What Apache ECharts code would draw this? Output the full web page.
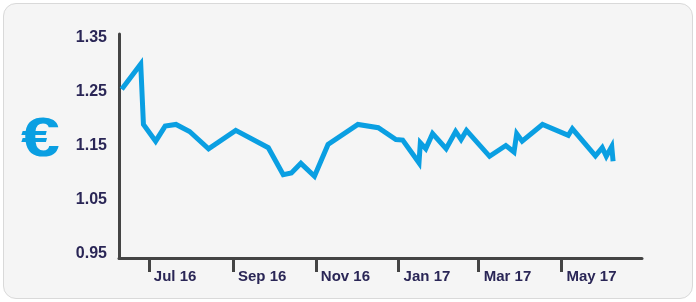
<!DOCTYPE html>
<html>
<head>
<meta charset="utf-8">
<script src="https://cdn.jsdelivr.net/npm/echarts@6/dist/echarts.min.js"></script>
<style>
html,body{margin:0;padding:0;background:#ffffff;}
#wrap{position:relative;width:696px;height:302px;}
#bg{position:absolute;left:3px;top:3px;width:688px;height:294px;background:#f5f5f5;border:1px solid #d9d9d9;border-radius:13px;}
#chart{position:absolute;left:0;top:0;width:696px;height:302px;}
</style>
</head>
<body>
<div id="wrap"><div id="bg"></div><div id="chart"></div></div>
<script>
// Dates of the observations (GBP -> EUR)
const dates = [
  '2016-06-11','2016-06-25','2016-06-27','2016-07-06','2016-07-13','2016-07-21','2016-07-31','2016-08-14',
  '2016-09-03','2016-09-27','2016-10-08','2016-10-14','2016-10-21','2016-10-31','2016-11-10','2016-12-02',
  '2016-12-17','2016-12-30','2017-01-04','2017-01-16','2017-01-17','2017-01-21','2017-01-26','2017-02-05',
  '2017-02-12','2017-02-16','2017-02-20','2017-03-09','2017-03-21','2017-03-27','2017-03-29','2017-04-02',
  '2017-04-17','2017-05-06','2017-05-09','2017-05-26','2017-05-31','2017-06-03','2017-06-07','2017-06-08'
];
const rates = [
  1.254,1.301,1.189,1.158,1.186,1.189,1.176,1.144,
  1.178,1.146,1.096,1.099,1.117,1.093,1.152,1.189,
  1.183,1.161,1.160,1.118,1.155,1.144,1.172,1.144,
  1.176,1.161,1.178,1.130,1.150,1.138,1.172,1.158,
  1.189,1.169,1.181,1.131,1.146,1.130,1.148,1.121
];
const yTicks = [0.95, 1.05, 1.15, 1.25, 1.35];
const xTickDates = ['2016-07-01','2016-09-01','2016-11-01','2017-01-01','2017-03-01','2017-05-01'];
const monthNames = ['Jan','Feb','Mar','Apr','May','Jun','Jul','Aug','Sep','Oct','Nov','Dec'];

const toTs = s => { const p = s.split('-'); return Date.UTC(+p[0], +p[1]-1, +p[2]); };
const seriesData = dates.map((d, i) => [toTs(d), rates[i]]);
const xTicks = xTickDates.map(toTs);
const DAY = 86400000;

const chart = echarts.init(document.getElementById('chart'), null, {renderer: 'canvas'});
chart.setOption({
  animation: false,
  backgroundColor: 'transparent',
  grid: {left: 119, right: 54, top: 34, bottom: 44, containLabel: false},
  graphic: [{
    type: 'text', x: 21, y: 113, scaleX: 1.27, scaleY: 1,
    style: {text: '€', fontSize: 55, fontWeight: 'bold', fontFamily: 'Liberation Sans, Arial, sans-serif', fill: '#0a9fe2'}
  }],
  xAxis: {
    type: 'value',
    min: toTs('2016-07-01') - 22 * DAY,
    max: toTs('2016-07-01') + 363.3 * DAY,
    axisLine: {show: true, lineStyle: {color: '#444444', width: 3}},
    axisTick: {show: true, customValues: xTicks, length: 14, lineStyle: {color: '#444444', width: 3}},
    axisLabel: {
      customValues: xTicks,
      align: 'left', margin: 11, padding: [0, 0, 0, 5],
      color: '#2a2656', fontSize: 15, fontWeight: 'bold',
      fontFamily: 'Liberation Sans, Arial, sans-serif',
      formatter: v => { const d = new Date(v); return monthNames[d.getUTCMonth()] + ' ' + String(d.getUTCFullYear()).slice(2); }
    },
    splitLine: {show: false}
  },
  yAxis: {
    type: 'value',
    min: 0.9417, max: 1.3565,
    axisLine: {show: true, lineStyle: {color: '#444444', width: 3}},
    axisTick: {show: false},
    axisLabel: {
      customValues: yTicks,
      margin: 12,
      color: '#2a2656', fontSize: 16, fontWeight: 'bold',
      fontFamily: 'Liberation Sans, Arial, sans-serif',
      formatter: v => v.toFixed(2)
    },
    splitLine: {show: false}
  },
  series: [{
    type: 'line',
    data: seriesData,
    showSymbol: false,
    symbol: 'none',
    lineStyle: {color: '#0a9fe2', width: 5, join: 'miter', cap: 'butt'}
  }]
});
</script>
</body>
</html>
